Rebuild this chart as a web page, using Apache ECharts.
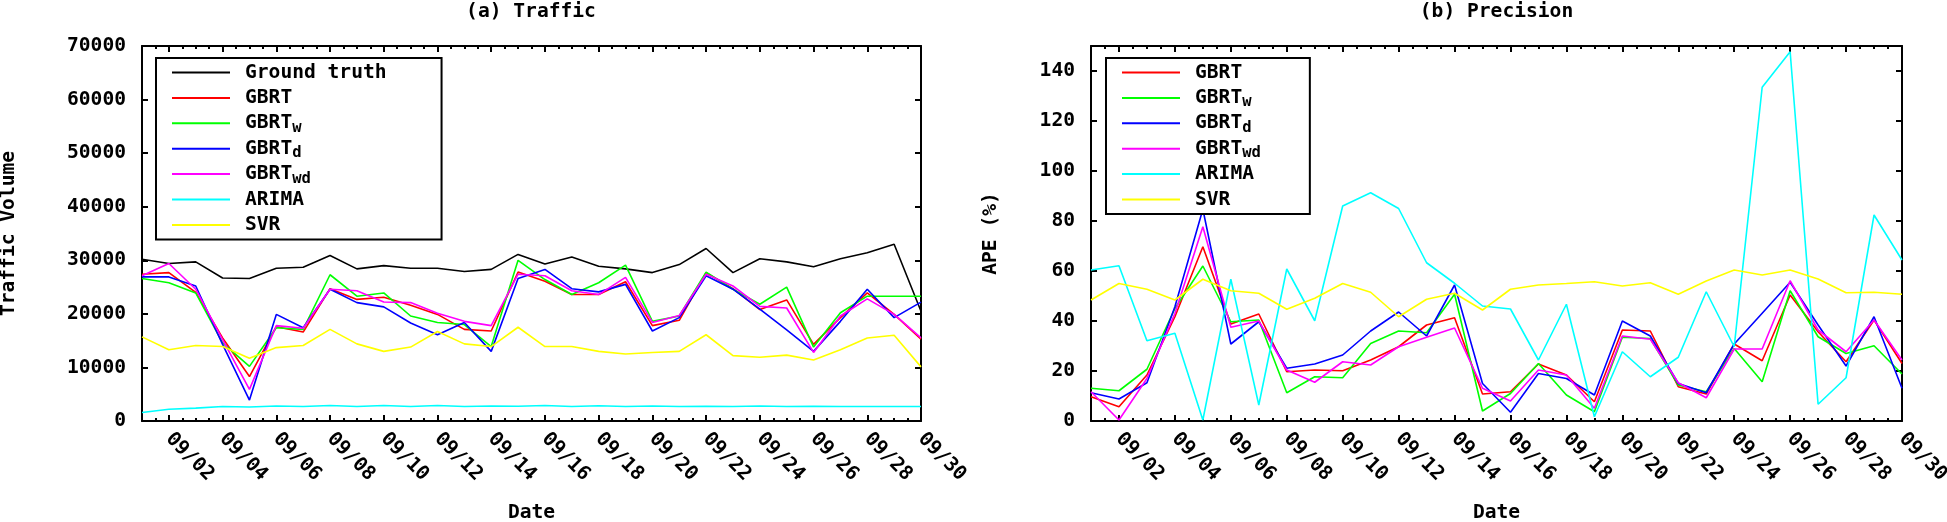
<!DOCTYPE html>
<html>
<head>
<meta charset="utf-8">
<script src="https://cdn.jsdelivr.net/npm/echarts@6/dist/echarts.min.js"></script>
<style>
html,body{margin:0;padding:0;background:#fff;}
#chart{width:1947px;height:522px;}
</style>
</head>
<body>
<div id="chart"></div>
<script>
const dates = ['09/01','09/02','09/03','09/04','09/05','09/06','09/07','09/08','09/09','09/10',
  '09/11','09/12','09/13','09/14','09/15','09/16','09/17','09/18','09/19','09/20',
  '09/21','09/22','09/23','09/24','09/25','09/26','09/27','09/28','09/29','09/30'];

const trafficGT = [30200,29400,29700,26700,26600,28500,28700,30900,28400,29000,28500,28500,27900,28300,31100,29300,30600,28900,28400,27700,29200,32200,27700,30300,29700,28800,30300,31400,33000,20500];
const trafficGBRT = [27400,27700,24000,15500,8300,17600,16600,24700,22700,23100,21600,19900,17100,16800,27800,26100,23600,23600,26000,17800,18800,27700,24700,20800,22600,14300,19300,23900,19900,15300];
const trafficGBRTw = [26600,25800,23900,14600,10200,17400,17100,27300,23300,23900,19600,18400,18000,13900,30000,26400,23600,25800,29100,18600,19600,27800,24600,21800,25000,13800,20200,23300,23300,23300];
const trafficGBRTd = [26900,26900,25200,14300,3900,19900,17400,24600,22100,21300,18300,16100,18400,13000,26600,28300,24700,24100,25500,16800,19300,27100,24600,20900,17000,13000,18600,24600,19300,22200];
const trafficGBRTwd = [27100,29400,24600,15200,5900,17800,17300,24600,24300,22200,22100,20100,18600,17800,27400,27100,24300,23600,26800,18400,19700,27400,25200,21400,21100,12800,19600,22800,19900,15500];
const trafficARIMA = [1600,2200,2400,2700,2600,2800,2700,2900,2700,2900,2700,2900,2700,2800,2750,2900,2700,2850,2700,2800,2700,2750,2700,2800,2700,2750,2700,2700,2700,2700];
const trafficSVR = [15700,13300,14100,13900,11700,13700,14100,17100,14400,13000,13800,16700,14400,13900,17500,13900,13900,13000,12500,12800,13000,16100,12200,11900,12300,11400,13300,15500,16000,10100];

const apeGBRT = [9.7,5.7,18.4,41.7,69.7,38.8,42.8,19.7,20.4,20.1,24.4,29.7,38.4,41.3,10.8,11.7,22.8,18.4,7.7,36.4,36.0,13.7,10.8,30.8,24.1,50.4,35.7,23.7,40.4,23.0];
const apeGBRTw = [13.1,12.1,20.7,45.0,62.0,39.7,40.4,11.3,17.7,17.3,31.0,36.0,35.3,50.7,4.0,11.0,23.0,10.4,3.7,33.5,33.0,14.4,11.7,29.0,15.7,52.1,33.7,27.0,30.1,18.8];
const apeGBRTd = [11.3,8.8,15.3,45.7,84.7,30.8,39.7,21.1,22.8,26.4,36.0,43.6,34.0,54.4,15.0,3.5,19.0,17.0,10.4,40.0,34.0,15.0,11.3,30.8,43.1,55.5,38.4,22.0,41.7,13.1];
const apeGBRTwd = [11.7,0.4,17.0,43.0,77.7,37.5,40.0,20.4,15.5,23.7,22.4,29.7,33.5,37.2,13.1,8.0,20.4,18.4,5.1,34.0,32.7,15.3,9.3,28.8,28.8,56.1,36.4,27.7,40.4,24.4];
const apeARIMA = [60.4,62.1,32.1,35.1,0.4,56.7,6.4,60.8,40.1,86.0,91.3,85.0,63.3,55.1,46.0,44.8,24.4,46.7,1.7,27.7,17.7,25.5,51.7,29.7,133.5,147.7,6.7,17.3,82.4,64.4];
const apeSVR = [48.4,55.0,52.7,48.4,56.7,52.1,51.1,44.7,49.1,55.0,51.5,41.7,48.7,51.1,44.4,52.7,54.4,55.0,55.7,54.0,55.3,50.7,56.0,60.4,58.4,60.4,56.8,51.3,51.5,50.7];

const seriesNames = ['Ground truth','GBRT','GBRT_w','GBRT_d','GBRT_wd','ARIMA','SVR'];
const seriesColors = ['#000000','#ff0000','#00ff00','#0000ff','#ff00ff','#00ffff','#ffff00'];

const chart = echarts.init(document.getElementById('chart'), null, {renderer:'canvas'});

const FONT = 'DejaVu Sans Mono';
const txt = {fontFamily: FONT, fontWeight: 'bold', fontSize: 19.6, color: '#000'};
const evenDay = function (i) { return i % 2 === 1; };
const lineBlack = {color:'#000', width:2};

function xAxesFor(g) {
  return [
    {type:'category', gridIndex:g, data:dates, boundaryGap:false, position:'bottom',
      axisLine:{show:true, onZero:false, lineStyle:lineBlack},
      axisTick:{show:true, inside:true, length:6, interval:evenDay, lineStyle:lineBlack},
      axisLabel:Object.assign({show:true, interval:evenDay, rotate:-45, margin:15}, txt),
      splitLine:{show:false},
      name:'Date', nameLocation:'middle', nameGap:92,
      nameTextStyle:Object.assign({verticalAlign:'middle', align:'center'}, txt)},
    {type:'category', gridIndex:g, data:dates, boundaryGap:false, position:'top',
      axisLine:{show:true, onZero:false, lineStyle:lineBlack},
      axisTick:{show:true, inside:true, length:6, interval:evenDay, lineStyle:lineBlack},
      axisLabel:{show:false}, splitLine:{show:false}},
    {type:'value', gridIndex:g, min:1, max:30, interval:0.5, position:'bottom',
      axisLine:{show:false, onZero:false},
      axisTick:{show:true, inside:true, length:3, lineStyle:lineBlack},
      axisLabel:{show:false}, splitLine:{show:false}},
    {type:'value', gridIndex:g, min:1, max:30, interval:0.5, position:'top',
      axisLine:{show:false, onZero:false},
      axisTick:{show:true, inside:true, length:3, lineStyle:lineBlack},
      axisLabel:{show:false}, splitLine:{show:false}}
  ];
}

function yAxesFor(g, max, interval, name, nameGap, showMax) {
  return [
    {type:'value', gridIndex:g, min:0, max:max, interval:interval, position:'left',
      axisLine:{show:true, onZero:false, lineStyle:lineBlack},
      axisTick:{show:true, inside:true, length:6, lineStyle:lineBlack},
      axisLabel:Object.assign({margin:16, showMaxLabel:showMax, formatter:function(v){return String(v);}}, txt),
      splitLine:{show:false},
      name:name, nameLocation:'middle', nameRotate:90, nameGap:nameGap,
      nameTextStyle:Object.assign({verticalAlign:'middle', align:'center'}, txt)},
    {type:'value', gridIndex:g, min:0, max:max, interval:interval, position:'right',
      axisLine:{show:true, onZero:false, lineStyle:lineBlack},
      axisTick:{show:true, inside:true, length:6, lineStyle:lineBlack},
      axisLabel:{show:false}, splitLine:{show:false}}
  ];
}

function mkSeries(name, data, g) {
  const idx = seriesNames.indexOf(name);
  return {
    type:'line', name:name, data:data, xAxisIndex:g*4, yAxisIndex:g*2,
    symbol:'none', showSymbol:false, smooth:false,
    lineStyle:{color:seriesColors[idx], width:1.6},
    itemStyle:{color:seriesColors[idx]},
    emphasis:{disabled:true}, animation:false
  };
}

function legendFmt(name) {
  const p = name.split('_');
  if (p.length > 1) return '{m|' + p[0] + '}{s|' + p[1] + '}';
  return '{m|' + name + '}';
}

function legendFor(names, left, top, padRight) {
  return {
    data:names, orient:'vertical', left:left, top:top,
    padding:[2, padRight, 2, 16], borderColor:'#000', borderWidth:2, backgroundColor:'#fff',
    itemWidth:58, itemHeight:2, icon:'rect', itemGap:0.4, selectedMode:false,
    formatter:legendFmt,
    textStyle:{fontFamily:FONT, fontWeight:'bold', fontSize:19.6, color:'#000', lineHeight:25,
      rich:{
        m:{fontFamily:FONT, fontWeight:'bold', fontSize:19.6, color:'#000', lineHeight:25, padding:[0,0,0,10]},
        s:{fontFamily:FONT, fontWeight:'bold', fontSize:15.5, color:'#000', lineHeight:8, verticalAlign:'bottom'}
      }}
  };
}

const option = {
  backgroundColor:'#fff',
  animation:false,
  title:[
    {text:'(a) Traffic', left:531, top:2, textAlign:'center', padding:0, textStyle:txt},
    {text:'(b) Precision', left:1496.5, top:2, textAlign:'center', padding:0, textStyle:txt}
  ],
  legend:[
    legendFor(seriesNames, 156, 58, 55),
    legendFor(seriesNames.slice(1), 1106, 58, 49)
  ],
  grid:[
    {left:142, top:46, width:779, height:375, containLabel:false, outerBoundsMode:'none'},
    {left:1091, top:46, width:811, height:375, containLabel:false, outerBoundsMode:'none'}
  ],
  xAxis:xAxesFor(0).concat(xAxesFor(1)),
  yAxis:yAxesFor(0, 70000, 10000, 'Traffic Volume', 133, true).concat(yAxesFor(1, 150, 20, 'APE (%)', 100, false)),
  series:[
    mkSeries('Ground truth', trafficGT, 0),
    mkSeries('GBRT', trafficGBRT, 0),
    mkSeries('GBRT_w', trafficGBRTw, 0),
    mkSeries('GBRT_d', trafficGBRTd, 0),
    mkSeries('GBRT_wd', trafficGBRTwd, 0),
    mkSeries('ARIMA', trafficARIMA, 0),
    mkSeries('SVR', trafficSVR, 0),
    mkSeries('GBRT', apeGBRT, 1),
    mkSeries('GBRT_w', apeGBRTw, 1),
    mkSeries('GBRT_d', apeGBRTd, 1),
    mkSeries('GBRT_wd', apeGBRTwd, 1),
    mkSeries('ARIMA', apeARIMA, 1),
    mkSeries('SVR', apeSVR, 1)
  ]
};
chart.setOption(option);
</script>
</body>
</html>
